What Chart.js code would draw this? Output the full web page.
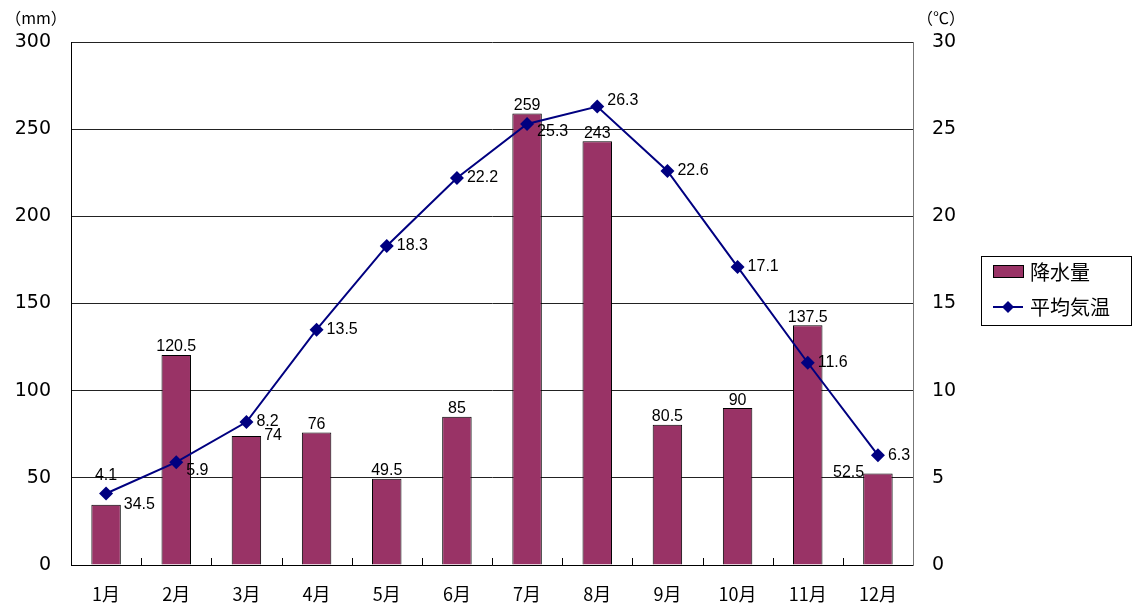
<!DOCTYPE html>
<html>
<head>
<meta charset="utf-8">
<script src="https://cdn.jsdelivr.net/npm/chart.js@4.4.1/dist/chart.umd.min.js"></script>
<style>
  html, body { margin: 0; padding: 0; background: #fff; }
  #wrap { width: 1133px; height: 608px; }
</style>
</head>
<body>
<div id="wrap"><canvas id="chart" width="1133" height="608"></canvas></div>
<script>
const months = ["1月", "2月", "3月", "4月", "5月", "6月", "7月", "8月", "9月", "10月", "11月", "12月"];
const rainfall = [34.5, 120.5, 74, 76, 49.5, 85, 259, 243, 80.5, 90, 137.5, 52.5];
const temperature = [4.1, 5.9, 8.2, 13.5, 18.3, 22.2, 25.3, 26.3, 22.6, 17.1, 11.6, 6.3];
const rainTicks = { min: 0, max: 300, step: 50 };
const tempTicks = { min: 0, max: 30, step: 5 };

// where each value label sits relative to its mark
const barLabelSide = ["right", "top", "right", "top", "top", "top", "top", "top", "top", "top", "top", "left"];
const lineLabelSide = ["top", "rightDown", "right", "right", "right", "right", "rightDown", "rightUp", "right", "right", "right", "right"];

const BAR_COLOR = "#993366";
const LINE_COLOR = "#000080";
const NUM_FONT = "Liberation Sans, Noto Sans CJK JP, sans-serif";
const AXIS_FONT = "DejaVu Sans, Noto Sans CJK JP, sans-serif";
const CJK_FONT = "Noto Sans CJK JP, sans-serif";

function diamond(ctx, x, y, r) {
  ctx.beginPath();
  ctx.moveTo(x, y - r);
  ctx.lineTo(x + r, y);
  ctx.lineTo(x, y + r);
  ctx.lineTo(x - r, y);
  ctx.closePath();
  ctx.fill();
}

const extras = {
  id: "extras",
  afterDraw(chart) {
    const ctx = chart.ctx;
    const area = chart.chartArea;
    ctx.save();

    // small category ticks pointing up from the bottom axis
    ctx.strokeStyle = "#000";
    ctx.lineWidth = 1;
    const step = (area.right - area.left) / months.length;
    for (let i = 1; i < months.length; i++) {
      const x = Math.round(area.left + step * i) + 0.5;
      ctx.beginPath();
      ctx.moveTo(x, area.bottom);
      ctx.lineTo(x, area.bottom - 7);
      ctx.stroke();
    }

    // value labels
    ctx.fillStyle = "#000";
    ctx.font = "16px " + NUM_FONT;
    const bars = chart.getDatasetMeta(0).data;
    bars.forEach((bar, i) => {
      const text = String(rainfall[i]);
      const side = barLabelSide[i];
      const half = bar.width / 2;
      if (side === "top") {
        ctx.textAlign = "center";
        ctx.textBaseline = "bottom";
        ctx.fillText(text, bar.x, bar.y);
      } else if (side === "right") {
        ctx.textAlign = "left";
        ctx.textBaseline = "middle";
        ctx.fillText(text, bar.x + half + 3, bar.y);
      } else {
        ctx.textAlign = "right";
        ctx.textBaseline = "middle";
        ctx.fillText(text, bar.x - half + 1, bar.y - 1);
      }
    });

    const pts = chart.getDatasetMeta(1).data;
    pts.forEach((p, i) => {
      const text = String(temperature[i]);
      const side = lineLabelSide[i];
      if (side === "top") {
        ctx.textAlign = "center";
        ctx.textBaseline = "bottom";
        ctx.fillText(text, p.x, p.y - 10);
      } else {
        ctx.textAlign = "left";
        ctx.textBaseline = "middle";
        let dy = 0;
        if (side === "rightDown") dy = 8;
        if (side === "rightUp") dy = -6;
        ctx.fillText(text, p.x + 10, p.y + dy);
      }
    });

    // axis units
    ctx.font = "16px " + CJK_FONT;
    ctx.textAlign = "center";
    ctx.textBaseline = "middle";
    ctx.fillText("（mm）", 36, 18);
    ctx.fillText("（℃）", 941, 18);

    // legend
    const lx = 981, ly = 256, lw = 150, lh = 69;
    ctx.fillStyle = "#fff";
    ctx.fillRect(lx, ly, lw, lh);
    ctx.strokeStyle = "#000";
    ctx.lineWidth = 1;
    ctx.strokeRect(lx + 0.5, ly + 0.5, lw, lh);

    ctx.fillStyle = BAR_COLOR;
    ctx.fillRect(993, 265, 30, 12);
    ctx.strokeRect(993.5, 265.5, 30, 12);

    ctx.strokeStyle = LINE_COLOR;
    ctx.lineWidth = 2;
    ctx.beginPath();
    ctx.moveTo(993, 307);
    ctx.lineTo(1023, 307);
    ctx.stroke();
    ctx.fillStyle = LINE_COLOR;
    diamond(ctx, 1008, 307, 6);

    ctx.fillStyle = "#000";
    ctx.font = "20px " + CJK_FONT;
    ctx.textAlign = "left";
    ctx.textBaseline = "middle";
    ctx.fillText("降水量", 1030, 272);
    ctx.fillText("平均気温", 1030, 307);

    ctx.restore();
  }
};

const config = {
  type: "bar",
  data: {
    labels: months,
    datasets: [
      {
        type: "bar",
        label: "降水量",
        data: rainfall,
        yAxisID: "y",
        backgroundColor: BAR_COLOR,
        borderColor: "#000",
        borderWidth: 1,
        barPercentage: 0.42,
        categoryPercentage: 1,
        order: 2,
      },
      {
        type: "line",
        label: "平均気温",
        data: temperature,
        yAxisID: "y1",
        borderColor: LINE_COLOR,
        backgroundColor: LINE_COLOR,
        borderWidth: 2,
        pointStyle: "rectRot",
        pointRadius: 7,
        pointBorderWidth: 0,
        tension: 0,
        order: 1,
      },
    ],
  },
  options: {
    responsive: false,
    animation: false,
    devicePixelRatio: 1,
    layout: { padding: { top: 42, left: 0, right: 0, bottom: 0 } },
    plugins: {
      legend: { display: false },
      tooltip: { enabled: false },
    },
    scales: {
      x: {
        grid: { display: false },
        border: { color: "#000" },
        ticks: { color: "#000", font: { family: CJK_FONT, size: 18 }, padding: 10 },
        afterFit(s) { s.height = 43; },
      },
      y: {
        position: "left",
        min: rainTicks.min,
        max: rainTicks.max,
        ticks: { stepSize: rainTicks.step, color: "#000", font: { family: AXIS_FONT, size: 19 }, padding: 20 },
        grid: { color: "#222", lineWidth: 1, drawTicks: false },
        border: { color: "#000" },
        afterFit(s) { s.width = 71; },
      },
      y1: {
        position: "right",
        min: tempTicks.min,
        max: tempTicks.max,
        ticks: { stepSize: tempTicks.step, color: "#000", font: { family: AXIS_FONT, size: 19 }, padding: 19 },
        grid: { drawOnChartArea: false, drawTicks: false },
        border: { color: "#777" },
        afterFit(s) { s.width = 220; },
      },
    },
  },
  plugins: [extras],
};

new Chart(document.getElementById("chart"), config);
</script>
</body>
</html>
